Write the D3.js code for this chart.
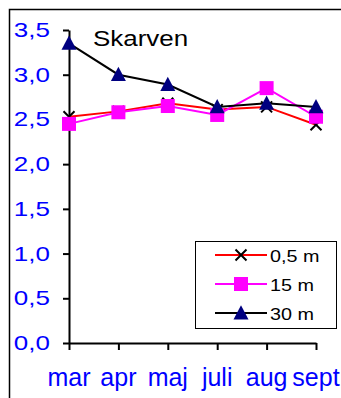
<!DOCTYPE html>
<html>
<head>
<meta charset="utf-8">
<script src="https://cdn.jsdelivr.net/npm/d3@7"></script>
<style>
  html, body { margin: 0; padding: 0; background: #fff; }
  svg { display: block; }
  text { font-family: "Liberation Sans", Arial, sans-serif; }
</style>
</head>
<body>
<svg id="chart" width="341" height="398"></svg>
<script>
// Months sampled at Skarven
const months = ["mar", "apr", "maj", "juli", "aug", "sept"];

// Values per depth
const depth05 = [2.53, 2.59, 2.68, 2.61, 2.64, 2.44];
const depth15 = [2.45, 2.58, 2.65, 2.55, 2.85, 2.53];
const depth30 = [3.35, 3.00, 2.89, 2.64, 2.68, 2.64];

const seriesNames = ["0,5 m", "15 m", "30 m"];
const yTicks = [0, 0.5, 1.0, 1.5, 2.0, 2.5, 3.0, 3.5];
const title = "Skarven";

const svg = d3.select("#chart");
const blue = "#0000ff";

const locale = d3.formatLocale({ decimal: ",", thousands: ".", grouping: [3], currency: ["", ""] });
const fmt = locale.format(".1f");

const x = d3.scalePoint().domain(months).range([69, 316]);
const y = d3.scaleLinear().domain([0, 3.5]).range([343, 30]);

// Outer frame
svg.append("rect")
  .attr("x", 9.5).attr("y", 9.5)
  .attr("width", 340).attr("height", 400)
  .attr("fill", "none").attr("stroke", "#000").attr("stroke-width", 1.5);

// Y axis
const yAxis = svg.append("g").attr("transform", "translate(69,0)")
  .call(d3.axisLeft(y).tickValues(yTicks).tickSize(6).tickSizeOuter(0).tickFormat(""));
yAxis.select(".domain").attr("stroke", "#000").attr("stroke-width", 2);
yAxis.selectAll(".tick line").attr("stroke", "#000").attr("stroke-width", 2);

svg.append("g").selectAll("g").data(yTicks).join("g")
  .attr("transform", d => `translate(50,${y(d) + 7})`)
  .append("text")
  .attr("transform", "scale(1.3,1)")
  .attr("text-anchor", "end")
  .attr("font-size", 20)
  .attr("fill", blue)
  .text(d => fmt(d));

// X axis
const xAxis = svg.append("g").attr("transform", "translate(0,343)")
  .call(d3.axisBottom(x).tickSize(7).tickSizeOuter(0).tickFormat(""));
xAxis.select(".domain").attr("stroke", "#000").attr("stroke-width", 2);
xAxis.selectAll(".tick line").attr("stroke", "#000").attr("stroke-width", 2);

svg.append("g").selectAll("text").data(months).join("text")
  .attr("x", d => x(d))
  .attr("y", 386)
  .attr("text-anchor", "middle")
  .attr("font-size", 25)
  .attr("fill", blue)
  .text(d => d);

// Title
svg.append("g").attr("transform", "translate(93,46)")
  .append("text")
  .attr("transform", "scale(1.18,1)")
  .attr("font-size", 22)
  .attr("fill", "#000")
  .text(title);

// Marker painters
const markers = {
  cross: (g, size) => g.append("path")
      .attr("d", `M${-size},${-size}L${size},${size}M${-size},${size}L${size},${-size}`)
      .attr("stroke", "#000").attr("stroke-width", 2).attr("fill", "none"),
  square: (g, size) => g.append("rect")
      .attr("x", -size).attr("y", -size).attr("width", 2 * size).attr("height", 2 * size)
      .attr("fill", "#ff00ff"),
  triangle: (g, size) => g.append("path")
      .attr("d", `M0,${-size * 1.05}L${size},${size * 0.85}L${-size},${size * 0.85}Z`)
      .attr("fill", "#000080")
};

const series = [
  { name: seriesNames[0], values: depth05, line: "#ff0000", marker: "cross", size: 5.5 },
  { name: seriesNames[1], values: depth15, line: "#ff00ff", marker: "square", size: 7 },
  { name: seriesNames[2], values: depth30, line: "#000000", marker: "triangle", size: 7.5 }
];

const line = d3.line().x((d, i) => x(months[i])).y(d => y(d));

series.forEach(s => {
  svg.append("path")
    .datum(s.values)
    .attr("d", line)
    .attr("fill", "none")
    .attr("stroke", s.line)
    .attr("stroke-width", 2);
  svg.append("g").selectAll("g").data(s.values).join("g")
    .attr("transform", (d, i) => `translate(${x(months[i])},${y(d)})`)
    .each(function () { markers[s.marker](d3.select(this), s.size); });
});

// Legend
const legend = svg.append("g");
legend.append("rect")
  .attr("x", 195.5).attr("y", 241.5)
  .attr("width", 141).attr("height", 87)
  .attr("fill", "#fff").attr("stroke", "#000").attr("stroke-width", 1);

series.forEach((s, i) => {
  const cy = 255 + i * 29;
  const row = legend.append("g");
  row.append("line")
    .attr("x1", 215).attr("x2", 267).attr("y1", cy).attr("y2", cy)
    .attr("stroke", s.line).attr("stroke-width", 2);
  markers[s.marker](row.append("g").attr("transform", `translate(241,${cy})`), s.size);
  row.append("g").attr("transform", `translate(270,${cy + 7})`)
    .append("text")
    .attr("transform", "scale(1.2,1)")
    .attr("font-size", 16.5)
    .attr("fill", "#000")
    .text(s.name);
});
</script>
</body>
</html>
